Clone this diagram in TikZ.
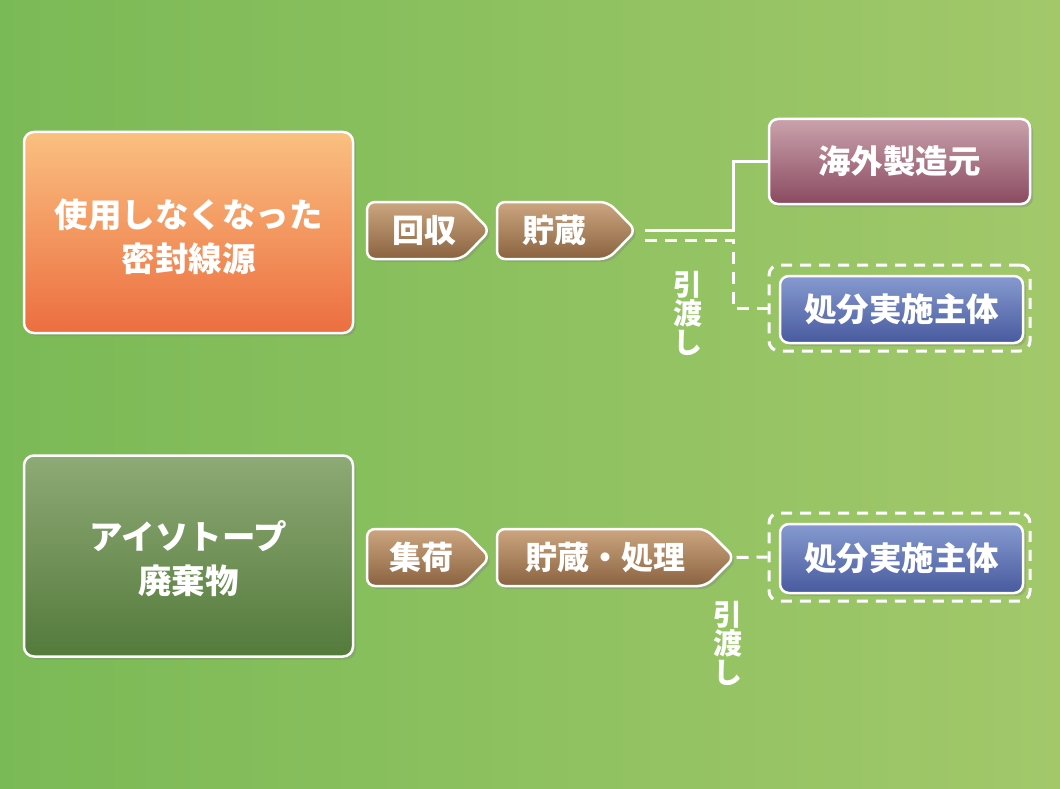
\documentclass[tikz,border=0pt]{standalone}
\usepackage{fontspec}
\newfontfamily\cjk{Noto Sans CJK JP}
\usetikzlibrary{shadows}
\definecolor{bgL}{RGB}{122,186,86}
\definecolor{bgR}{RGB}{162,200,106}
\definecolor{orT}{RGB}{250,192,128}
\definecolor{orB}{RGB}{236,110,64}
\definecolor{grT}{RGB}{142,170,118}
\definecolor{grB}{RGB}{84,122,60}
\definecolor{brT}{RGB}{204,166,128}
\definecolor{brB}{RGB}{138,98,64}
\definecolor{mrT}{RGB}{202,162,172}
\definecolor{mrB}{RGB}{138,74,96}
\definecolor{blT}{RGB}{134,154,208}
\definecolor{blB}{RGB}{72,90,158}
\tikzset{
  shd/.style={drop shadow={opacity=0.35,shadow xshift=3pt,shadow yshift=-3pt}},
  bigbox/.style={shd,draw=white,line width=2.5pt,rounded corners=10pt,
    minimum width=329pt,minimum height=201pt},
  bigtext/.style={align=center,text=white,inner sep=0pt,
    font=\cjk\bfseries\fontsize{33.5}{44}\selectfont},
  pent/.style={shd,draw=white,line width=2.5pt,rounded corners=8pt,
    top color=brT,bottom color=brB},
  penttext/.style={text=white,inner sep=0pt,
    font=\cjk\bfseries\fontsize{32}{36}\selectfont},
  rbox/.style={shd,draw=white,line width=2.5pt,rounded corners=9pt,text=white,
    font=\cjk\bfseries\fontsize{32.5}{36}\selectfont},
  frame/.style={draw=white,line width=3pt,rounded corners=10pt,
    dash pattern=on 11pt off 8pt,minimum width=261pt},
  wline/.style={draw=white,line width=3pt},
  dline/.style={draw=white,line width=3pt,dash pattern=on 12pt off 8pt},
  vlabel/.style={text=white,align=center,inner sep=0pt,
    font=\cjk\bfseries\fontsize{29}{29}\selectfont}
}
\begin{document}
\begin{tikzpicture}[x=1pt,y=-1pt]
\shade[left color=bgL,right color=bgR] (0,0) rectangle (1060,789);
\useasboundingbox (0,0) rectangle (1060,789);

\node[bigbox,top color=orT,bottom color=orB] (src) at (188.5,232.5) {};
\node[bigtext] (srct) at (188.5,237) {使用しなくなった\\密封線源};
\node[bigbox,top color=grT,bottom color=grB] (iso) at (188.5,556) {};
\node[bigtext] (isot) at (188.5,559) {アイソトープ\\廃棄物};

\path[pent] (367,202) -- (462,202) -- (490,230.5) -- (462,259) -- (367,259) -- cycle;
\node[penttext] (kaishu) at (424,230.5) {回収};
\path[pent] (497,202) -- (608,202) -- (636,230.5) -- (608,259) -- (497,259) -- cycle;
\node[penttext] (chozo1) at (554,230.5) {貯蔵};
\coordinate (tip1) at (636,230.5);
\path[pent] (367,529) -- (462,529) -- (490,557.5) -- (462,586) -- (367,586) -- cycle;
\node[penttext] (shuka) at (421,557.5) {集荷};
\path[pent] (497,529) -- (706,529) -- (734.5,557.5) -- (706,586) -- (497,586) -- cycle;
\node[penttext] (chozo2) at (605,557.5) {貯蔵・処理};
\coordinate (tip2) at (734.5,557.5);

\node[rbox,top color=mrT,bottom color=mrB,minimum width=261pt,minimum height=85pt] (kaigai) at (899.5,161.5) {海外製造元};

\node[frame,minimum height=86pt] (frame1) at (899.5,308) {};
\node[rbox,top color=blT,bottom color=blB,minimum width=243pt,minimum height=67pt] (disp1) at (901.5,309.5) {処分実施主体};
\node[frame,minimum height=88pt] (frame2) at (899.5,557) {};
\node[rbox,top color=blT,bottom color=blB,minimum width=243pt,minimum height=69pt] (disp2) at (901.5,558.5) {処分実施主体};

\draw[wline] ([xshift=9pt]tip1) -| ([xshift=-34pt]kaigai.west) -- (kaigai.west);
\draw[dline] ([shift={(9pt,-9.5pt)}]tip1) -| ([xshift=-34pt]frame1.west) -- (frame1.west);
\draw[dline] ([xshift=2pt]tip2) -- (frame2.west);

\node[vlabel] (hw1) at (688,313) {引\\渡\\し};
\node[vlabel] (hw2) at (728,643) {引\\渡\\し};
\end{tikzpicture}
\end{document}
